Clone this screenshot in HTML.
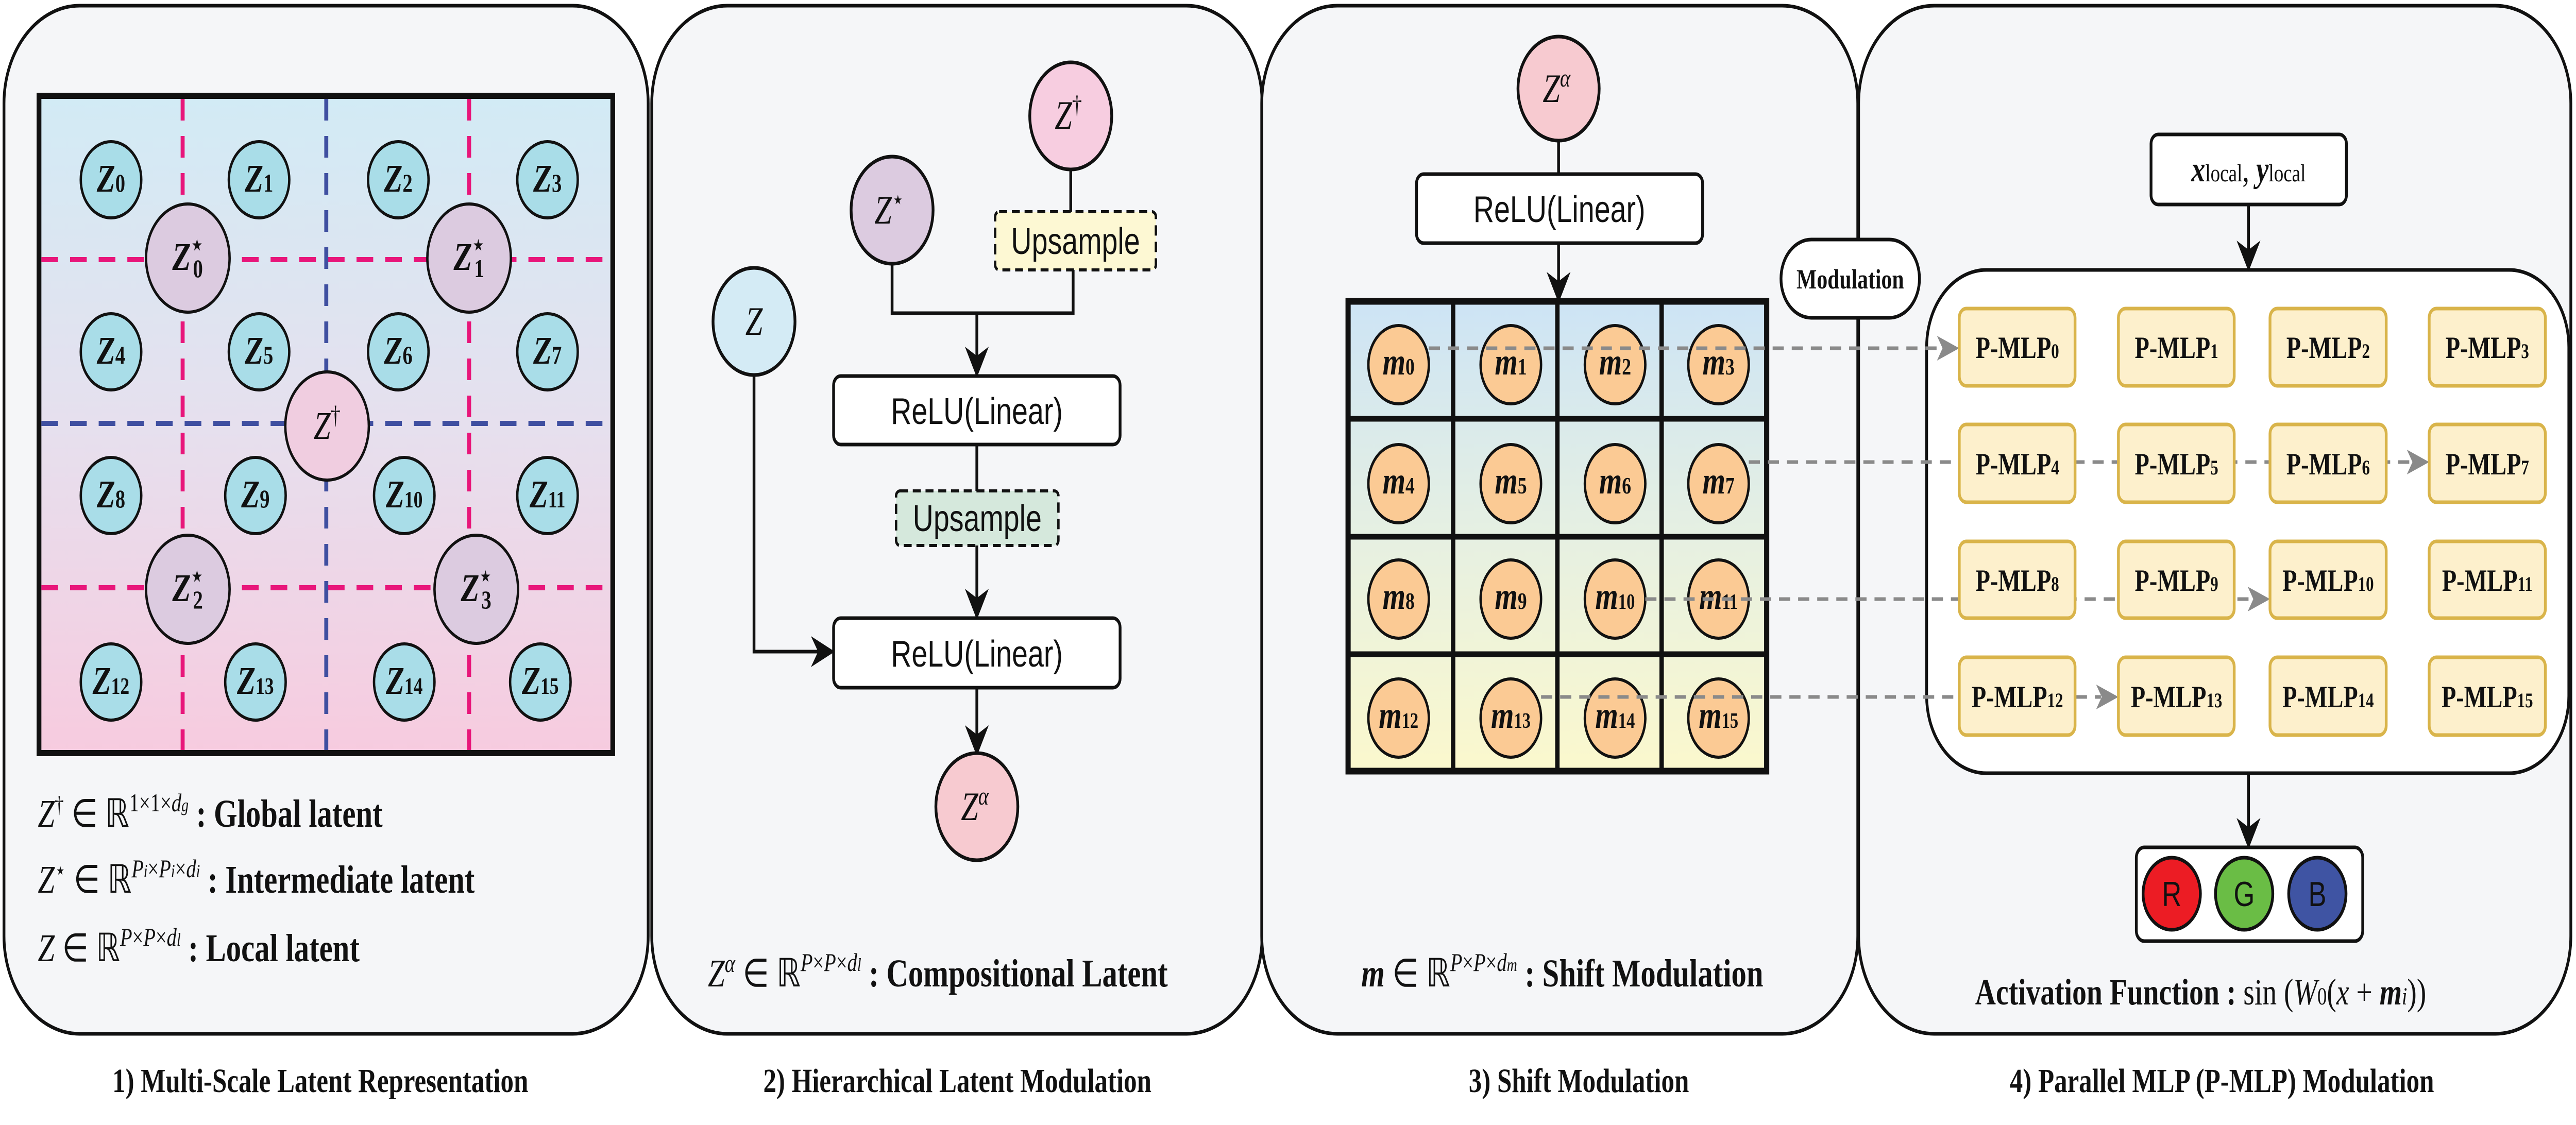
<!DOCTYPE html>
<html><head><meta charset="utf-8"><style>
html,body{margin:0;padding:0;background:#fff;width:100%;height:100%;overflow:hidden;}
svg{display:block;width:100vw;height:100vh;}
.ser{font-family:"Liberation Serif",serif;}
.it{font-style:italic;}
.b{font-weight:bold;}
.sans{font-family:"Liberation Sans",sans-serif;}
</style></head><body>
<svg viewBox="0 0 6474 2184" preserveAspectRatio="none" xmlns="http://www.w3.org/2000/svg">
<defs>
<linearGradient id="g1" x1="0" y1="0" x2="0" y2="1"><stop offset="0" stop-color="#d2ebf5"/><stop offset="0.5" stop-color="#e6e0ee"/><stop offset="1" stop-color="#f7cbdf"/></linearGradient>
<linearGradient id="g3" x1="0" y1="0" x2="0" y2="1"><stop offset="0" stop-color="#cde4f5"/><stop offset="0.5" stop-color="#e6f0e2"/><stop offset="1" stop-color="#fbf8cd"/></linearGradient>
<marker id="ab" viewBox="0 0 10 10" refX="9" refY="5" markerWidth="60" markerHeight="60" markerUnits="userSpaceOnUse" orient="auto"><path d="M0,0 L10,5 L0,10 L3,5 Z" fill="#111"/></marker>
</defs>
<g fill="#f5f6f8" stroke="#111" stroke-width="7">
<rect x="10" y="11" width="1619" height="1996" rx="190"/>
<rect x="1638" y="11" width="1534" height="1996" rx="190"/>
<rect x="3171" y="11" width="1498" height="1996" rx="190"/>
<rect x="4671" y="11" width="1790" height="1996" rx="190"/>
</g>
<!-- Panel 1 -->
<rect x="98" y="186" width="1442" height="1276" fill="url(#g1)" stroke="#111" stroke-width="12"/>
<g stroke-width="10" stroke-dasharray="42,30" fill="none">
<line x1="459" y1="192" x2="459" y2="1456" stroke="#e8167a"/>
<line x1="1179" y1="192" x2="1179" y2="1456" stroke="#e8167a"/>
<line x1="104" y1="504" x2="1534" y2="504" stroke="#e8167a"/>
<line x1="104" y1="1141" x2="1534" y2="1141" stroke="#e8167a"/>
<line x1="820" y1="192" x2="820" y2="1456" stroke="#3f4fa0"/>
<line x1="104" y1="822" x2="1534" y2="822" stroke="#3f4fa0"/>
</g>
<g stroke="#111" stroke-width="6" fill="#a9dde8">
<ellipse cx="279" cy="349" rx="76" ry="74"/><ellipse cx="651" cy="349" rx="76" ry="74"/><ellipse cx="1001" cy="349" rx="76" ry="74"/><ellipse cx="1376" cy="349" rx="76" ry="74"/>
<ellipse cx="279" cy="683" rx="76" ry="74"/><ellipse cx="651" cy="683" rx="76" ry="74"/><ellipse cx="1001" cy="683" rx="76" ry="74"/><ellipse cx="1376" cy="683" rx="76" ry="74"/>
<ellipse cx="279" cy="962" rx="76" ry="74"/><ellipse cx="642" cy="962" rx="76" ry="74"/><ellipse cx="1016" cy="962" rx="76" ry="74"/><ellipse cx="1376" cy="962" rx="76" ry="74"/>
<ellipse cx="279" cy="1324" rx="76" ry="74"/><ellipse cx="642" cy="1324" rx="76" ry="74"/><ellipse cx="1016" cy="1324" rx="76" ry="74"/><ellipse cx="1358" cy="1324" rx="76" ry="74"/>
</g>
<g stroke="#111" stroke-width="6" fill="#dccbe0">
<ellipse cx="472" cy="501" rx="105" ry="105"/><ellipse cx="1179" cy="501" rx="105" ry="105"/><ellipse cx="472" cy="1144" rx="105" ry="105"/><ellipse cx="1197" cy="1144" rx="105" ry="105"/>
</g>
<ellipse cx="822" cy="827" rx="105" ry="105" fill="#f0cde0" stroke="#111" stroke-width="6"/>
<g class="ser it b" font-size="76" text-anchor="middle" fill="#111">
<text x="279" y="372">Z<tspan font-size="50" font-style="normal">0</tspan></text>
<text x="651" y="372">Z<tspan font-size="50" font-style="normal">1</tspan></text>
<text x="1001" y="372">Z<tspan font-size="50" font-style="normal">2</tspan></text>
<text x="1376" y="372">Z<tspan font-size="50" font-style="normal">3</tspan></text>
<text x="279" y="706">Z<tspan font-size="50" font-style="normal">4</tspan></text>
<text x="651" y="706">Z<tspan font-size="50" font-style="normal">5</tspan></text>
<text x="1001" y="706">Z<tspan font-size="50" font-style="normal">6</tspan></text>
<text x="1376" y="706">Z<tspan font-size="50" font-style="normal">7</tspan></text>
<text x="279" y="985">Z<tspan font-size="50" font-style="normal">8</tspan></text>
<text x="642" y="985">Z<tspan font-size="50" font-style="normal">9</tspan></text>
<text x="1016" y="985">Z<tspan font-size="46" font-style="normal">10</tspan></text>
<text x="1376" y="985">Z<tspan font-size="46" font-style="normal">11</tspan></text>
<text x="279" y="1347">Z<tspan font-size="46" font-style="normal">12</tspan></text>
<text x="642" y="1347">Z<tspan font-size="46" font-style="normal">13</tspan></text>
<text x="1016" y="1347">Z<tspan font-size="46" font-style="normal">14</tspan></text>
<text x="1358" y="1347">Z<tspan font-size="46" font-style="normal">15</tspan></text>
<text x="472" y="524">Z<tspan font-size="50" font-style="normal" dy="-32">⋆</tspan><tspan font-size="50" font-style="normal" dx="-26" dy="46">0</tspan></text>
<text x="1179" y="524">Z<tspan font-size="50" font-style="normal" dy="-32">⋆</tspan><tspan font-size="50" font-style="normal" dx="-26" dy="46">1</tspan></text>
<text x="472" y="1167">Z<tspan font-size="50" font-style="normal" dy="-32">⋆</tspan><tspan font-size="50" font-style="normal" dx="-26" dy="46">2</tspan></text>
<text x="1197" y="1167">Z<tspan font-size="50" font-style="normal" dy="-32">⋆</tspan><tspan font-size="50" font-style="normal" dx="-26" dy="46">3</tspan></text>
<text x="822" y="852" font-weight="normal">Z<tspan font-size="50" font-style="normal" dy="-30">†</tspan></text>
</g>
<g class="ser" font-size="76" fill="#111">
<text x="95" y="1605"><tspan class="it">Z</tspan><tspan font-size="46" dy="-28">†</tspan><tspan dy="28"> ∈ ℝ</tspan><tspan font-size="50" dy="-30">1×1×<tspan class="it">d</tspan><tspan font-size="36" class="it">g</tspan></tspan><tspan dy="30" class="b">  : Global latent</tspan></text>
<text x="95" y="1733"><tspan class="it">Z</tspan><tspan font-size="46" dy="-28">⋆</tspan><tspan dy="28"> ∈ ℝ</tspan><tspan font-size="50" dy="-30" class="it">P<tspan font-size="36">i</tspan><tspan font-style="normal">×</tspan>P<tspan font-size="36">i</tspan><tspan font-style="normal">×</tspan>d<tspan font-size="36">i</tspan></tspan><tspan dy="30" class="b">  : Intermediate latent</tspan></text>
<text x="95" y="1866"><tspan class="it">Z</tspan><tspan> ∈ ℝ</tspan><tspan font-size="50" dy="-30" class="it">P<tspan font-style="normal">×</tspan>P<tspan font-style="normal">×</tspan>d<tspan font-size="36">l</tspan></tspan><tspan dy="30" class="b">  : Local latent</tspan></text>
</g>
<!-- Panel 2 -->
<g stroke="#111" stroke-width="7" fill="none">
<line x1="2691" y1="331" x2="2691" y2="411"/>
<polyline points="2242,514 2242,608 2697,608 2697,524"/>
<line x1="2455" y1="608" x2="2455" y2="727" marker-end="url(#ab)"/>
<line x1="2455" y1="863" x2="2455" y2="953"/>
<line x1="2455" y1="1059" x2="2455" y2="1197" marker-end="url(#ab)"/>
<polyline points="1895,727 1895,1265 2092,1265" marker-end="url(#ab)"/>
<line x1="2455" y1="1335" x2="2455" y2="1462" marker-end="url(#ab)"/>
</g>
<ellipse cx="2691" cy="225" rx="103" ry="104" fill="#f7cde0" stroke="#111" stroke-width="7"/>
<ellipse cx="2242" cy="408" rx="103" ry="104" fill="#dccbe0" stroke="#111" stroke-width="7"/>
<ellipse cx="1895" cy="624" rx="103" ry="104" fill="#d4ebf5" stroke="#111" stroke-width="7"/>
<ellipse cx="2455" cy="1566" rx="103" ry="104" fill="#f7cad0" stroke="#111" stroke-width="7"/>
<rect x="2501" y="411" width="404" height="113" rx="10" fill="#fdf8d3" stroke="#111" stroke-width="6" stroke-dasharray="20,12"/>
<rect x="2252" y="953" width="408" height="106" rx="10" fill="#d5e8dc" stroke="#111" stroke-width="6" stroke-dasharray="20,12"/>
<rect x="2095" y="730" width="720" height="133" rx="18" fill="#fff" stroke="#111" stroke-width="7"/>
<rect x="2095" y="1200" width="720" height="135" rx="18" fill="#fff" stroke="#111" stroke-width="7"/>
<g class="sans" font-size="72" text-anchor="middle" fill="#111">
<text x="2703" y="493">Upsample</text>
<text x="2456" y="1031">Upsample</text>
<text x="2455" y="823">ReLU(Linear)</text>
<text x="2455" y="1294">ReLU(Linear)</text>
</g>
<g class="ser it" font-size="78" text-anchor="middle" fill="#111">
<text x="2685" y="250">Z<tspan font-size="50" font-style="normal" dy="-30">†</tspan></text>
<text x="2235" y="434">Z<tspan font-size="50" font-style="normal" dy="-30">⋆</tspan></text>
<text x="1895" y="650">Z</text>
<text x="2450" y="1592">Z<tspan font-size="50" dy="-30">α</tspan></text>
</g>
<text x="1779" y="1915" class="ser" font-size="76" fill="#111"><tspan class="it">Z</tspan><tspan font-size="50" dy="-28" class="it">α</tspan><tspan dy="28"> ∈ ℝ</tspan><tspan font-size="50" dy="-30" class="it">P<tspan font-style="normal">×</tspan>P<tspan font-style="normal">×</tspan>d<tspan font-size="36">l</tspan></tspan><tspan dy="30" class="b"> : Compositional Latent</tspan></text>
<!-- Panel 3 -->
<line x1="3917" y1="273" x2="3917" y2="338" stroke="#111" stroke-width="7"/>
<ellipse cx="3917" cy="172" rx="102" ry="101" fill="#f7cad0" stroke="#111" stroke-width="7"/>
<text x="3912" y="198" class="ser it" font-size="78" text-anchor="middle" fill="#111">Z<tspan font-size="50" dy="-30">α</tspan></text>
<rect x="3560" y="338" width="719" height="134" rx="18" fill="#fff" stroke="#111" stroke-width="7"/>
<text x="3919" y="431" class="sans" font-size="72" text-anchor="middle" fill="#111">ReLU(Linear)</text>
<line x1="3917" y1="472" x2="3917" y2="582" stroke="#111" stroke-width="7" marker-end="url(#ab)"/>
<rect x="3388" y="585" width="1052" height="912" fill="url(#g3)" stroke="#111" stroke-width="13"/>
<g stroke="#111" stroke-width="11">
<line x1="3652" y1="585" x2="3652" y2="1497"/><line x1="3914" y1="585" x2="3914" y2="1497"/><line x1="4176" y1="585" x2="4176" y2="1497"/>
<line x1="3388" y1="813" x2="4440" y2="813"/><line x1="3388" y1="1042" x2="4440" y2="1042"/><line x1="3388" y1="1270" x2="4440" y2="1270"/>
</g>
<g stroke="#111" stroke-width="6" fill="#fbca94">
<ellipse cx="3515" cy="708" rx="76" ry="76"/><ellipse cx="3797" cy="708" rx="76" ry="76"/><ellipse cx="4059" cy="708" rx="76" ry="76"/><ellipse cx="4319" cy="708" rx="76" ry="76"/>
<ellipse cx="3515" cy="939" rx="76" ry="76"/><ellipse cx="3797" cy="939" rx="76" ry="76"/><ellipse cx="4059" cy="939" rx="76" ry="76"/><ellipse cx="4319" cy="939" rx="76" ry="76"/>
<ellipse cx="3515" cy="1163" rx="76" ry="76"/><ellipse cx="3797" cy="1163" rx="76" ry="76"/><ellipse cx="4059" cy="1163" rx="76" ry="76"/><ellipse cx="4319" cy="1163" rx="76" ry="76"/>
<ellipse cx="3515" cy="1394" rx="76" ry="76"/><ellipse cx="3797" cy="1394" rx="76" ry="76"/><ellipse cx="4059" cy="1394" rx="76" ry="76"/><ellipse cx="4319" cy="1394" rx="76" ry="76"/>
</g>
<g class="ser it b" font-size="74" text-anchor="middle" fill="#111">
<text x="3515" y="727">m<tspan font-size="46" font-style="normal">0</tspan></text>
<text x="3797" y="727">m<tspan font-size="46" font-style="normal">1</tspan></text>
<text x="4059" y="727">m<tspan font-size="46" font-style="normal">2</tspan></text>
<text x="4319" y="727">m<tspan font-size="46" font-style="normal">3</tspan></text>
<text x="3515" y="958">m<tspan font-size="46" font-style="normal">4</tspan></text>
<text x="3797" y="958">m<tspan font-size="46" font-style="normal">5</tspan></text>
<text x="4059" y="958">m<tspan font-size="46" font-style="normal">6</tspan></text>
<text x="4319" y="958">m<tspan font-size="46" font-style="normal">7</tspan></text>
<text x="3515" y="1182">m<tspan font-size="46" font-style="normal">8</tspan></text>
<text x="3797" y="1182">m<tspan font-size="46" font-style="normal">9</tspan></text>
<text x="4059" y="1182">m<tspan font-size="42" font-style="normal">10</tspan></text>
<text x="4319" y="1182">m<tspan font-size="42" font-style="normal">11</tspan></text>
<text x="3515" y="1413">m<tspan font-size="42" font-style="normal">12</tspan></text>
<text x="3797" y="1413">m<tspan font-size="42" font-style="normal">13</tspan></text>
<text x="4059" y="1413">m<tspan font-size="42" font-style="normal">14</tspan></text>
<text x="4319" y="1413">m<tspan font-size="42" font-style="normal">15</tspan></text>
</g>
<text x="3421" y="1915" class="ser" font-size="76" fill="#111"><tspan class="it b">m</tspan><tspan> ∈ ℝ</tspan><tspan font-size="50" dy="-30" class="it">P<tspan font-style="normal">×</tspan>P<tspan font-style="normal">×</tspan>d<tspan font-size="36">m</tspan></tspan><tspan dy="30" class="b">  : Shift Modulation</tspan></text>
<!-- Panel 4 -->
<rect x="4842" y="524" width="1614" height="977" rx="150" fill="#fff" stroke="#111" stroke-width="7"/>
<rect x="5406" y="261" width="491" height="136" rx="18" fill="#fff" stroke="#111" stroke-width="7"/>
<text x="5651" y="352" class="ser" font-size="70" text-anchor="middle" fill="#111"><tspan class="it b">x</tspan><tspan font-size="48">local</tspan>, <tspan class="it b">y</tspan><tspan font-size="48">local</tspan></text>
<line x1="5651" y1="397" x2="5651" y2="521" stroke="#111" stroke-width="7" marker-end="url(#ab)"/>
<line x1="5651" y1="1501" x2="5651" y2="1642" stroke="#111" stroke-width="7" marker-end="url(#ab)"/>
<g stroke="#8a8a8a" stroke-width="7" stroke-dasharray="28,20" fill="none">
<line x1="3591" y1="676" x2="4880" y2="676"/>
<line x1="4395" y1="897" x2="6060" y2="897"/>
<line x1="4135" y1="1163" x2="5660" y2="1163"/>
<line x1="3873" y1="1353" x2="5280" y2="1353"/>
</g>
<g fill="#8a8a8a">
<path d="M4868,652 L4924,676 L4868,700 L4882,676 Z"/>
<path d="M6049,873 L6105,897 L6049,921 L6063,897 Z"/>
<path d="M5649,1139 L5705,1163 L5649,1187 L5663,1163 Z"/>
<path d="M5268,1329 L5324,1353 L5268,1377 L5282,1353 Z"/>
</g>
<g fill="#fdf0cc" stroke="#d9b44a" stroke-width="7">
<rect x="4924" y="599" width="291" height="150" rx="18"/><rect x="5324" y="599" width="291" height="150" rx="18"/><rect x="5705" y="599" width="292" height="150" rx="18"/><rect x="6105" y="599" width="292" height="150" rx="18"/>
<rect x="4924" y="824" width="291" height="151" rx="18"/><rect x="5324" y="824" width="291" height="151" rx="18"/><rect x="5705" y="824" width="292" height="151" rx="18"/><rect x="6105" y="824" width="292" height="151" rx="18"/>
<rect x="4924" y="1051" width="291" height="149" rx="18"/><rect x="5324" y="1051" width="291" height="149" rx="18"/><rect x="5705" y="1051" width="292" height="149" rx="18"/><rect x="6105" y="1051" width="292" height="149" rx="18"/>
<rect x="4924" y="1276" width="291" height="151" rx="18"/><rect x="5324" y="1276" width="291" height="151" rx="18"/><rect x="5705" y="1276" width="292" height="151" rx="18"/><rect x="6105" y="1276" width="292" height="151" rx="18"/>
</g>
<g class="ser b" font-size="60" text-anchor="middle" fill="#111">
<text x="5070" y="695">P-MLP<tspan font-size="40">0</tspan></text>
<text x="5470" y="695">P-MLP<tspan font-size="40">1</tspan></text>
<text x="5851" y="695">P-MLP<tspan font-size="40">2</tspan></text>
<text x="6251" y="695">P-MLP<tspan font-size="40">3</tspan></text>
<text x="5070" y="921">P-MLP<tspan font-size="40">4</tspan></text>
<text x="5470" y="921">P-MLP<tspan font-size="40">5</tspan></text>
<text x="5851" y="921">P-MLP<tspan font-size="40">6</tspan></text>
<text x="6251" y="921">P-MLP<tspan font-size="40">7</tspan></text>
<text x="5070" y="1147">P-MLP<tspan font-size="40">8</tspan></text>
<text x="5470" y="1147">P-MLP<tspan font-size="40">9</tspan></text>
<text x="5851" y="1147">P-MLP<tspan font-size="40">10</tspan></text>
<text x="6251" y="1147">P-MLP<tspan font-size="40">11</tspan></text>
<text x="5070" y="1373">P-MLP<tspan font-size="40">12</tspan></text>
<text x="5470" y="1373">P-MLP<tspan font-size="40">13</tspan></text>
<text x="5851" y="1373">P-MLP<tspan font-size="40">14</tspan></text>
<text x="6251" y="1373">P-MLP<tspan font-size="40">15</tspan></text>
</g>
<rect x="5369" y="1645" width="569" height="182" rx="20" fill="#fff" stroke="#111" stroke-width="7"/>
<ellipse cx="5458" cy="1735" rx="72" ry="70" fill="#ec1c24" stroke="#111" stroke-width="7"/>
<ellipse cx="5640" cy="1735" rx="72" ry="70" fill="#6abd45" stroke="#111" stroke-width="7"/>
<ellipse cx="5824" cy="1735" rx="72" ry="70" fill="#3f54a3" stroke="#111" stroke-width="7"/>
<g class="sans" font-size="68" text-anchor="middle" fill="#111">
<text x="5458" y="1759">R</text><text x="5640" y="1759">G</text><text x="5824" y="1759">B</text>
</g>
<text x="4964" y="1950" class="ser" font-size="72" fill="#111"><tspan class="b">Activation Function : </tspan>sin (<tspan class="it">W</tspan><tspan font-size="48">0</tspan>(<tspan class="it">x</tspan> + <tspan class="it b">m</tspan><tspan font-size="48" class="it">i</tspan>))</text>
<rect x="4476" y="465" width="348" height="152" rx="76" fill="#fff" stroke="#111" stroke-width="7"/>
<text x="4650" y="560" class="ser b" font-size="54" text-anchor="middle" fill="#111">Modulation</text>
<g class="ser b" font-size="66" text-anchor="middle" fill="#111">
<text x="805" y="2120">1) Multi-Scale Latent Representation</text>
<text x="2406" y="2120">2) Hierarchical Latent Modulation</text>
<text x="3968" y="2120">3) Shift Modulation</text>
<text x="5584" y="2120">4) Parallel MLP (P-MLP) Modulation</text>
</g>
</svg>
</body></html>
